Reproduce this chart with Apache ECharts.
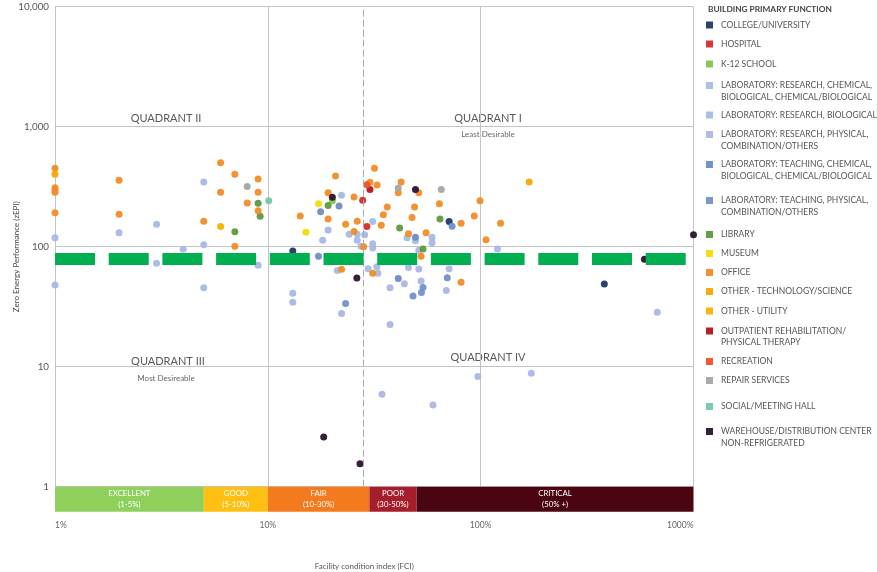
<!DOCTYPE html>
<html>
<head>
<meta charset="utf-8">
<script src="https://cdn.jsdelivr.net/npm/echarts@6/dist/echarts.min.js"></script>
<style>
  html, body { margin: 0; padding: 0; background: #ffffff; }
  #chart { width: 877px; height: 572px; }
</style>
</head>
<body>
<div id="chart"></div>
<script>
// ---- Building categories, legend wording and colours ----
const categories = [
  'COLLEGE/UNIVERSITY',
  'HOSPITAL',
  'K-12 SCHOOL',
  'LABORATORY: RESEARCH, CHEMICAL, BIOLOGICAL, CHEMICAL/BIOLOGICAL',
  'LABORATORY: RESEARCH, BIOLOGICAL',
  'LABORATORY: RESEARCH, PHYSICAL, COMBINATION/OTHERS',
  'LABORATORY: TEACHING, CHEMICAL, BIOLOGICAL, CHEMICAL/BIOLOGICAL',
  'LABORATORY: TEACHING, PHYSICAL, COMBINATION/OTHERS',
  'LIBRARY',
  'MUSEUM',
  'OFFICE',
  'OTHER - TECHNOLOGY/SCIENCE',
  'OTHER - UTILITY',
  'OUTPATIENT REHABILITATION/ PHYSICAL THERAPY',
  'RECREATION',
  'REPAIR SERVICES',
  'SOCIAL/MEETING HALL',
  'WAREHOUSE/DISTRIBUTION CENTER NON-REFRIGERATED'
];
const legendLabels = [
  'COLLEGE/UNIVERSITY',
  'HOSPITAL',
  'K-12 SCHOOL',
  'LABORATORY: RESEARCH, CHEMICAL,\nBIOLOGICAL, CHEMICAL/BIOLOGICAL',
  'LABORATORY: RESEARCH, BIOLOGICAL',
  'LABORATORY: RESEARCH, PHYSICAL,\nCOMBINATION/OTHERS',
  'LABORATORY: TEACHING, CHEMICAL,\nBIOLOGICAL, CHEMICAL/BIOLOGICAL',
  'LABORATORY: TEACHING, PHYSICAL,\nCOMBINATION/OTHERS',
  'LIBRARY',
  'MUSEUM',
  'OFFICE',
  'OTHER - TECHNOLOGY/SCIENCE',
  'OTHER - UTILITY',
  'OUTPATIENT REHABILITATION/\nPHYSICAL THERAPY',
  'RECREATION',
  'REPAIR SERVICES',
  'SOCIAL/MEETING HALL',
  'WAREHOUSE/DISTRIBUTION CENTER\nNON-REFRIGERATED'
];
const categoryColors = [
  '#1f3864', '#d62c2c', '#86c64a', '#a9b8e6', '#a7bce4', '#adb6e6',
  '#6f8cc4', '#7391c9', '#5c9a3c', '#f2dd00', '#f28c28', '#f6a800',
  '#f5b400', '#b3141c', '#f0502b', '#a5a5a5', '#70c9a6', '#2b1330'
];
// vertical position of each legend swatch
const legendRowY = [25, 44, 64, 85, 115, 134, 164, 200, 234.5, 253.5, 272.5, 291.5, 311, 330.5, 361.5, 380.5, 406.5, 431];

// ---- Points: [facility condition index %, zero energy performance zEPI] ----
const collegeUniversity = [[13.1, 92], [71.1, 162], [381, 48.9]];
const hospital = [[27.9, 244], [29.2, 147]];
const k12School = [[20.1, 241]];
const labResearchChemical = [[1.0, 119], [1.0, 48.0], [2.0, 131], [3.0, 154], [3.0, 72.7], [4.0, 95.1], [5.0, 346], [5.0, 104], [5.0, 45.5], [9.0, 70.0], [13.1, 41], [13.1, 34.5], [22.2, 268], [19.2, 138], [18.1, 113]];
const labResearchBiological = [[24.1, 127], [26.3, 127], [28.5, 126], [26.3, 113], [27.4, 101], [31.1, 162], [31.1, 106], [31.1, 97.5], [21.2, 63.4], [29.6, 65.6], [32.5, 68.1], [32.9, 60], [45.1, 119], [49.4, 112], [59.1, 120]];
const labResearchPhysical = [[59.1, 108], [51.2, 93.5], [45.8, 67.1], [51.2, 65.2], [43.8, 49.2], [37.5, 45.5], [52.5, 51.8], [71.1, 65.6], [69.0, 43.1], [120, 95.7], [22.2, 27.7], [37.5, 22.5], [676, 28.4], [34.4, 5.9], [59.7, 4.8], [97, 8.3], [173, 8.8]];
const labTeachingChemical = [[17.7, 196], [21.6, 218], [17.3, 83.4], [49.4, 120], [73.4, 148], [41.0, 54.3]];
const labTeachingPhysical = [[53.6, 45.7], [52.7, 41.5], [48.1, 38.8], [69.7, 55.2], [23.2, 33.6]];
const library = [[7.0, 133], [9.0, 230], [9.2, 179], [19.2, 220], [41.6, 143], [53.6, 95.7], [64.4, 170]];
const museum = [[17.3, 228], [15.1, 132]];
const office = [[1.0, 450], [1.0, 310], [1.0, 297], [1.0, 284], [1.0, 192], [2.0, 358], [2.0, 186], [5.0, 163], [6.0, 501], [6.0, 284], [7.0, 401], [7.0, 101], [8.0, 231], [9.0, 366], [9.0, 284], [9.0, 199], [20.8, 388], [19.2, 282], [25.4, 259], [14.2, 180], [19.2, 170], [23.2, 154], [26.3, 163], [25.4, 134], [28.2, 100], [22.2, 64.8], [31.1, 60], [31.7, 450], [30.2, 344], [32.6, 327], [34.1, 151], [34.9, 185], [36.4, 214], [42.3, 346], [41.0, 282], [51.2, 282], [48.9, 214], [47.6, 175], [45.8, 128], [55.4, 131], [52.5, 83.2], [64.0, 228], [80.9, 157], [93.3, 180], [99.3, 241], [124, 157], [106, 114], [80.9, 50.5]];
const otherTechnology = [[1.0, 401], [169, 346]];
const otherUtility = [[6.0, 147]];
const outpatientRehab = [[30.2, 299]];
const recreation = [[29.2, 329]];
const repairServices = [[8.0, 318], [41.0, 309], [65.3, 299]];
const socialHall = [[10.1, 241]];
const warehouse = [[20.1, 258], [49.4, 299], [1000, 126], [588, 78.5], [26.2, 54.9], [18.3, 2.6], [27.1, 1.55]];

const seriesValues = [
  collegeUniversity, hospital, k12School, labResearchChemical, labResearchBiological,
  labResearchPhysical, labTeachingChemical, labTeachingPhysical, library, museum,
  office, otherTechnology, otherUtility, outpatientRehab, recreation, repairServices,
  socialHall, warehouse
];

// ---- Reference lines ----
const zeroEnergyTarget = 80;     // green dashed target line (zEPI)
const fairPoorDivider = 28;      // grey dashed divider (FCI %)

// ---- FCI condition bands ----
const bandLabels = ['EXCELLENT\n(1-5%)', 'GOOD\n(5-10%)', 'FAIR\n(10-30%)', 'POOR\n(30-50%)', 'CRITICAL\n(50% +)'];
const bandEdges = [1, 5, 10, 30, 50, 1000];
const bandColors = ['#8fcf5c', '#fdbf12', '#f37a1d', '#a51e2c', '#4b0510'];

// ---- Axis ticks ----
const yTicks = [1, 10, 100, 1000, 10000];
const xTicks = [1, 10, 100, 1000];

const FONT = 'Lato, "Liberation Sans", sans-serif';
const GRID_LEFT = 55, GRID_TOP = 6.7, GRID_W = 638.5, GRID_H = 480;

const chart = echarts.init(document.getElementById('chart'), null, { renderer: 'canvas' });

const scatterSeries = categories.map((name, i) => ({
  name: name,
  type: 'scatter',
  xAxisIndex: 0,
  yAxisIndex: 0,
  symbolSize: 7,
  data: seriesValues[i],
  itemStyle: { color: categoryColors[i], opacity: 0.95 },
  emphasis: { disabled: true },
  z: 3
}));

const legends = categories.map((name, i) => {
  const twoLine = legendLabels[i].indexOf('\n') >= 0;
  return {
    orient: 'vertical',
    left: 706,
    top: legendRowY[i] - (twoLine ? 16.75 : 5.75),
    padding: 0,
    itemWidth: 7,
    itemHeight: 7,
    icon: 'rect',
    selectedMode: false,
    data: [name],
    formatter: () => (twoLine ? '\n' : '') + legendLabels[i],
    textStyle: { fontFamily: FONT, fontSize: 8.5, lineHeight: 11.5, color: '#555', padding: [0, 0, 0, 3] }
  };
});

const option = {
  animation: false,
  backgroundColor: '#ffffff',
  textStyle: { fontFamily: FONT },
  title: {
    text: 'BUILDING PRIMARY FUNCTION',
    left: 708, top: 5.5, padding: 0,
    textStyle: { fontFamily: FONT, fontSize: 8.3, fontWeight: 'bold', color: '#444' }
  },
  legend: legends,
  grid: [
    { left: GRID_LEFT, top: GRID_TOP, width: GRID_W, height: GRID_H, containLabel: false, outerBoundsMode: 'none' },
    { left: GRID_LEFT, top: GRID_TOP + GRID_H, width: GRID_W, height: 25, containLabel: false, outerBoundsMode: 'none' }
  ],
  xAxis: [
    {
      type: 'log', logBase: 10, min: xTicks[0], max: xTicks[xTicks.length - 1], gridIndex: 0,
      axisLine: { show: false }, axisTick: { show: false }, axisLabel: { show: false },
      splitLine: { show: true, lineStyle: { color: '#c4c4c4', width: 1 } }
    },
    {
      type: 'log', logBase: 10, min: xTicks[0], max: xTicks[xTicks.length - 1], gridIndex: 1,
      axisLine: { show: false }, axisTick: { show: false }, splitLine: { show: false },
      axisLabel: {
        show: true, margin: 9, color: '#666', fontSize: 8.5, fontFamily: FONT,
        alignMinLabel: 'left', alignMaxLabel: 'right',
        formatter: v => v + '%'
      },
      name: 'Facility condition index (FCI)',
      nameLocation: 'middle', nameGap: 51,
      nameTextStyle: { color: '#555', fontSize: 8, fontFamily: FONT, padding: [0, 20, 0, 0] }
    }
  ],
  yAxis: [
    {
      type: 'log', logBase: 10, min: yTicks[0], max: yTicks[yTicks.length - 1], gridIndex: 0,
      axisLine: { show: false }, axisTick: { show: false },
      axisLabel: { margin: 6, color: '#555', fontSize: 9.8, fontFamily: FONT, formatter: v => v.toLocaleString('en-US') },
      splitLine: { show: true, lineStyle: { color: '#c4c4c4', width: 1 } },
      name: 'Zero Energy Performance (zEPI)',
      nameLocation: 'middle', nameGap: 35, nameMoveOverlap: false,
      nameTextStyle: { color: '#444', fontSize: 8, fontFamily: FONT, padding: [0, 20, 0, 0] }
    },
    { type: 'value', min: 0, max: 1, gridIndex: 1, show: false }
  ],
  series: [
    // grey divider between FAIR and POOR zones
    {
      name: 'divider', type: 'scatter', data: [], xAxisIndex: 0, yAxisIndex: 0, z: 1,
      markLine: {
        silent: true, symbol: ['none', 'none'], label: { show: false },
        lineStyle: { color: '#aaaaaa', width: 1, type: [7, 3] },
        data: [{ xAxis: fairPoorDivider }]
      }
    },
    ...scatterSeries,
    // green zero-energy target line, drawn over the points
    {
      name: 'target', type: 'scatter', data: [], xAxisIndex: 0, yAxisIndex: 0, z: 10,
      markLine: {
        silent: true, symbol: ['none', 'none'], label: { show: false },
        lineStyle: { color: '#00b050', width: 12, type: [40, 13.7], cap: 'butt', opacity: 1 },
        data: [{ yAxis: zeroEnergyTarget }]
      }
    },
    // condition bands under the plot
    {
      name: 'bands', type: 'scatter', data: [], xAxisIndex: 1, yAxisIndex: 1, z: 2,
      markArea: {
        silent: true,
        label: { show: true, position: 'inside', color: '#ffffff', fontSize: 7.8, lineHeight: 11.5, fontFamily: FONT },
        data: bandLabels.map((label, i) => [
          { name: label, xAxis: bandEdges[i], itemStyle: { color: bandColors[i], opacity: 1 } },
          { xAxis: bandEdges[i + 1] }
        ])
      }
    }
  ],
  graphic: [
    { type: 'text', x: 166, y: 118, style: { text: 'QUADRANT II', fill: '#595959', font: '11px ' + FONT, align: 'center', verticalAlign: 'middle' } },
    { type: 'text', x: 488, y: 118, style: { text: 'QUADRANT I', fill: '#595959', font: '11px ' + FONT, align: 'center', verticalAlign: 'middle' } },
    { type: 'text', x: 488, y: 134.5, style: { text: 'Least Desirable', fill: '#666', font: '8px ' + FONT, align: 'center', verticalAlign: 'middle' } },
    { type: 'text', x: 168, y: 361, style: { text: 'QUADRANT III', fill: '#595959', font: '11px ' + FONT, align: 'center', verticalAlign: 'middle' } },
    { type: 'text', x: 166, y: 378, style: { text: 'Most Desireable', fill: '#666', font: '8px ' + FONT, align: 'center', verticalAlign: 'middle' } },
    { type: 'text', x: 488, y: 357, style: { text: 'QUADRANT IV', fill: '#595959', font: '11px ' + FONT, align: 'center', verticalAlign: 'middle' } }
  ]
};

chart.setOption(option);
</script>
</body>
</html>
